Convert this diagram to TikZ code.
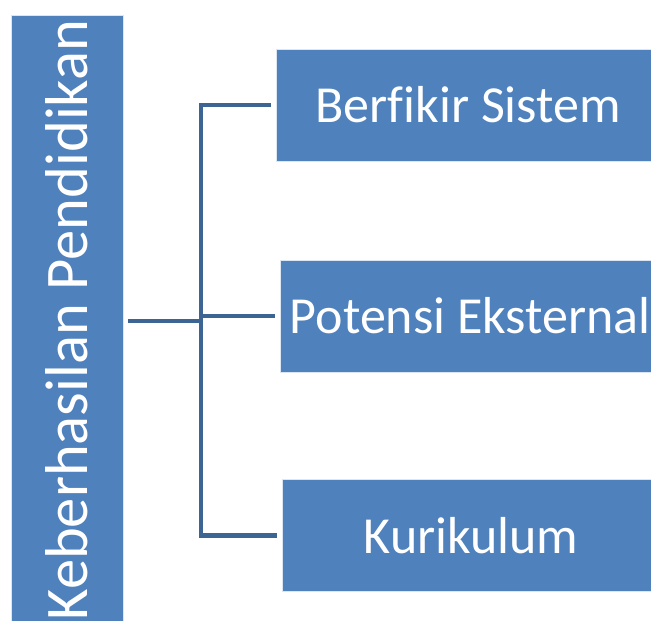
\documentclass[tikz,border=0pt]{standalone}
\usepackage{fontspec}
\setmainfont{Carlito}[Ligatures=NoCommon]
\usepackage{tikz}
\usetikzlibrary{positioning}

\definecolor{boxblue}{RGB}{79,129,189}
\definecolor{linkblue}{RGB}{61,101,148}

\begin{document}
\begin{tikzpicture}[
            x = 1pt, y = -1pt, % pixel grid of the picture
            link/.style = {draw=linkblue, line width=4.5pt, shorten < = 5pt, shorten > = 5pt}, % connector style
            leaf/.style = {fill=boxblue, draw=white!80!boxblue, thin, text=white, inner sep=0pt,
                           minimum height=112pt, font=\fontsize{52}{60}\selectfont},
            root/.style = {leaf, minimum height=112pt, minimum width=610pt,
                           font=\fontsize{60.5}{66}\selectfont}
        ]

	\useasboundingbox (0,0) rectangle (651,621);

	\node[root, rotate=90] (root) at (67,320) {Keberhasilan Pendidikan};
	\coordinate (hub) at (201,321);

	\node[leaf, minimum width=384pt, anchor=west] (sistem) at (276,105) {Berfikir Sistem};
	\node[leaf, minimum width=380pt, anchor=west] (potensi) at (280,316) {Potensi Eksternal};
	\node[leaf, minimum width=378pt, anchor=west] (kurikulum) at (282,535.5) {Kurikulum};

	\draw[link, shorten > = 0pt] (root.south |- hub) -- (hub);
	\draw[link, shorten < = 0pt] (hub) |- (sistem.west);
	\draw[link, shorten < = 0pt] (hub) |- (potensi.west);
	\draw[link, shorten < = 0pt] (hub) |- (kurikulum.west);

\end{tikzpicture}
\end{document}
